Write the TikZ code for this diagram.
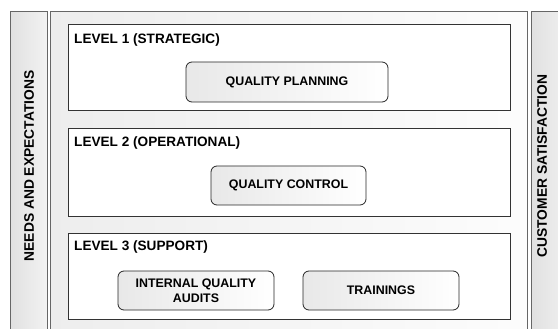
\documentclass[tikz,border=0pt]{standalone}
\usepackage{fontspec}
\setmainfont{Liberation Sans}
\begin{document}
\begin{tikzpicture}[x=1pt,y=-1pt,
  colbox/.style={draw=black!60, line width=1.1pt, left color=black!12, right color=black!5, inner sep=0pt},
  panelbox/.style={draw=black!60, line width=1.1pt, left color=black!7, right color=black!1, inner sep=0pt},
  levelbox/.style={draw=black!80, line width=0.9pt, fill=white, inner sep=0pt},
  actbox/.style={draw=black!85, line width=0.8pt, rounded corners=6pt, left color=black!9, right color=white, inner sep=0pt, align=center, font=\bfseries\fontsize{12.4}{14.5}\selectfont},
  lvltext/.style={anchor=west, inner sep=0pt, font=\bfseries\fontsize{13.6}{15}\selectfont},
  sidetext/.style={inner sep=0pt, font=\bfseries\fontsize{13.8}{15}\selectfont}]
\useasboundingbox (0,0) rectangle (558,329);
% side columns and main panel
\node[colbox, minimum width=37pt, minimum height=330pt, anchor=north west] (left) at (9.5,11) {};
\node[panelbox, minimum width=477pt, minimum height=330pt, anchor=north west] (panel) at (49.5,11) {};
\node[colbox, minimum width=40pt, minimum height=330pt, anchor=north west] (right) at (531,11) {};
\node[sidetext, rotate=90] (needs) at (29,166) {NEEDS AND EXPECTATIONS};
\node[sidetext, rotate=90] (cust) at (542,166) {CUSTOMER SATISFACTION};
% level boxes
\node[levelbox, minimum width=442pt, minimum height=86pt, anchor=north west] (l1) at (67.5,24.5) {};
\node[levelbox, minimum width=442pt, minimum height=88pt, anchor=north west] (l2) at (67.5,128.5) {};
\node[levelbox, minimum width=442pt, minimum height=86pt, anchor=north west] (l3) at (67.5,233) {};
\node[lvltext] (t1) at (74,40) {LEVEL 1 (STRATEGIC)};
\node[lvltext] (t2) at (74,142.5) {LEVEL 2 (OPERATIONAL)};
\node[lvltext] (t3) at (74,246.5) {LEVEL 3 (SUPPORT)};
% activity boxes
\node[actbox, minimum width=202pt, minimum height=40pt] (qp) at (287,82) {QUALITY PLANNING};
\node[actbox, minimum width=155pt, minimum height=39pt] (qc) at (288.5,185.5) {QUALITY CONTROL};
\node[actbox, minimum width=156pt, minimum height=39pt] (iqa) at (196,290.5) {INTERNAL QUALITY\\AUDITS};
\node[actbox, minimum width=156pt, minimum height=39pt] (tr) at (381,290.5) {TRAININGS};
\end{tikzpicture}
\end{document}
